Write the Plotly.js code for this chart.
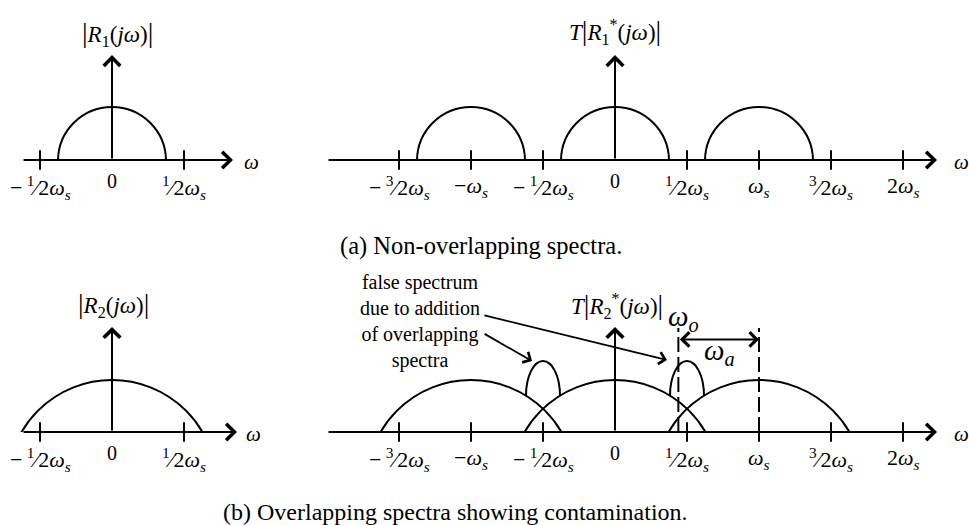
<!DOCTYPE html>
<html><head><meta charset="utf-8">
<script src="https://cdn.plot.ly/plotly-3.0.1.min.js"></script>
<style>html,body{margin:0;padding:0;background:#fff}</style>
</head><body><div id="chart" style="width:969px;height:525px"></div>
<script>
// ---------------- data (frequency in units of ωs, magnitude in units of the peak) ----------------
const narrowTicks = [-0.5, 0.5];
const narrowTickLabels = ['−\u2009<sup>1</sup>⁄2<i>ω</i><sub><i>s</i></sub>', '<sup>1</sup>⁄2<i>ω</i><sub><i>s</i></sub>'];
const wideTicks = [-1.5, -1, -0.5, 0.5, 1, 1.5, 2];
const wideTickLabels = ['−\u2009<sup>3</sup>⁄2<i>ω</i><sub><i>s</i></sub>', '−<i>ω</i><sub><i>s</i></sub>', '−\u2009<sup>1</sup>⁄2<i>ω</i><sub><i>s</i></sub>',
  '<sup>1</sup>⁄2<i>ω</i><sub><i>s</i></sub>', '<i>ω</i><sub><i>s</i></sub>', '<sup>3</sup>⁄2<i>ω</i><sub><i>s</i></sub>', '2<i>ω</i><sub><i>s</i></sub>'];

// (a) non-overlapping spectra
const aBaseCentres = [0];
const aSampledCentres = [-1, 0, 1];
const aHalfWidth = 0.375;   // half-width at the axis
const aPeak = 1.0;

// (b) overlapping spectra
const bBaseCentres = [0];
const bSampledCentres = [-1, 0, 1];
const bHalfWidth = 0.628;   // half-width at the axis
const bPeak = 1.0;
const falseCentres = [-0.5, 0.5];
const falseHalfWidth = 0.118;
const falseBase = 0.70;
const falsePeak = 1.365;

// frequency markers
const omegaO = 0.44;
const omegaS = 1.0;
const markerTop = 2.0;
const spanArrowY = 1.78;

// ---------------- layout geometry ----------------
const W = 969, H = 525, PXW = 144;
const FONT = 'Liberation Serif, Times New Roman, serif';
const panels = [
  {xa:'x',  ya:'y',  L:10,  R:262, z:112, axisY:160, top:8,   ppu:53, tail:-0.625, tip:0.84,  arrowTop:1.98, wLbl:0.972, ticks:narrowTicks, labels:narrowTickLabels},
  {xa:'x2', ya:'y2', L:300, R:969, z:615, axisY:160, top:8,   ppu:53, tail:-2.0,   tip:2.236, arrowTop:1.98, wLbl:2.403, ticks:wideTicks,   labels:wideTickLabels},
  {xa:'x3', ya:'y3', L:10,  R:262, z:112, axisY:432, top:268, ppu:52, tail:-0.625, tip:0.868, arrowTop:2.02, wLbl:0.985, ticks:narrowTicks, labels:narrowTickLabels},
  {xa:'x4', ya:'y4', L:300, R:969, z:615, axisY:432, top:268, ppu:52, tail:-2.0,   tip:2.236, arrowTop:2.02, wLbl:2.403, ticks:wideTicks,   labels:wideTickLabels}
];

const layout = {width:W, height:H, margin:{l:0,r:0,t:0,b:0}, showlegend:false,
  paper_bgcolor:'#fff', plot_bgcolor:'rgba(0,0,0,0)', shapes:[], annotations:[]};
const traces = [];
const blk = '#000';

panels.forEach((p, i) => {
  const sfx = i === 0 ? '' : String(i + 1);
  layout['xaxis' + sfx] = {domain:[p.L / W, p.R / W], range:[(p.L - p.z) / PXW, (p.R - p.z) / PXW],
    visible:false, fixedrange:true, anchor:p.ya};
  layout['yaxis' + sfx] = {domain:[1 - p.axisY / H, 1 - p.top / H], range:[0, (p.axisY - p.top) / p.ppu],
    visible:false, fixedrange:true, anchor:p.xa};
  // tick marks
  traces.push({type:'scatter', mode:'markers', x:p.ticks, y:p.ticks.map(() => 0), xaxis:p.xa, yaxis:p.ya,
    cliponaxis:false, hoverinfo:'skip',
    marker:{symbol:'line-ns', size:14, color:blk, line:{width:2, color:blk}}});
  // horizontal axis arrow
  layout.annotations.push({xref:p.xa, yref:p.ya, axref:p.xa, ayref:p.ya, x:p.tip, y:0, ax:p.tail, ay:0,
    text:'', showarrow:true, arrowhead:4, arrowsize:1.6, arrowwidth:2, arrowcolor:blk});
  // vertical axis arrow
  layout.annotations.push({xref:p.xa, yref:p.ya, axref:p.xa, ayref:p.ya, x:0, y:p.arrowTop, ax:0, ay:0,
    text:'', showarrow:true, arrowhead:4, arrowsize:1.6, arrowwidth:2, arrowcolor:blk});
  // tick labels
  p.ticks.forEach((t, k) => layout.annotations.push({xref:p.xa, yref:p.ya, x:t, y:0, yshift:-27,
    text:p.labels[k], showarrow:false, font:{family:FONT, size:22, color:blk}}));
  layout.annotations.push({xref:p.xa, yref:p.ya, x:0, y:0, yshift:-21, text:'0', showarrow:false,
    font:{family:FONT, size:20, color:blk}});
  // ω axis label
  layout.annotations.push({xref:p.xa, yref:p.ya, x:p.wLbl, y:0, yshift:-2, text:'<i>ω</i>', showarrow:false,
    xanchor:'center', font:{family:FONT, size:21, color:blk}});
});

// ---------------- spectra ----------------
function semi(xa, ya, c, hw, pk) {            // circular arc through (c±hw,0) and (c,pk)
  const p = panels.find(q => q.xa === xa);
  const hwPx = hw * PXW, pkPx = pk * p.ppu;
  const R = (hwPx * hwPx + pkPx * pkPx) / (2 * pkPx);
  const cy = (pkPx - R) / p.ppu;
  layout.shapes.push({type:'circle', xref:xa, yref:ya, x0:c - R / PXW, x1:c + R / PXW,
    y0:cy - R / p.ppu, y1:cy + R / p.ppu, line:{color:blk, width:2}, fillcolor:'rgba(0,0,0,0)'});
}
aBaseCentres.forEach(c => semi('x', 'y', c, aHalfWidth, aPeak));
aSampledCentres.forEach(c => semi('x2', 'y2', c, aHalfWidth, aPeak));
bBaseCentres.forEach(c => semi('x3', 'y3', c, bHalfWidth, bPeak));
bSampledCentres.forEach(c => semi('x4', 'y4', c, bHalfWidth, bPeak));

// false-spectrum bumps (half ellipses via cubic Béziers)
const K = 0.5523;
falseCentres.forEach(c => {
  const x0 = c - falseHalfWidth, x1 = c + falseHalfWidth, b = falseBase, h = falsePeak - falseBase;
  const path = `M${x0},${b} C${x0},${b + K * h} ${c - K * falseHalfWidth},${falsePeak} ${c},${falsePeak} ` +
               `C${c + K * falseHalfWidth},${falsePeak} ${x1},${b + K * h} ${x1},${b}`;
  layout.shapes.push({type:'path', xref:'x4', yref:'y4', path:path, line:{color:blk, width:2}});
});

// dashed markers at ωo and ωs
[omegaO, omegaS].forEach(v => layout.shapes.push({type:'line', xref:'x4', yref:'y4', x0:v, x1:v, y0:0, y1:markerTop,
  line:{color:blk, width:2, dash:'15px,5px'}}));
// ωa span arrow
layout.annotations.push({xref:'x4', yref:'y4', axref:'x4', ayref:'y4', x:omegaS, y:spanArrowY, ax:omegaO, ay:spanArrowY,
  text:'', showarrow:true, arrowside:'end+start', arrowhead:4, startarrowhead:4, arrowsize:1.4, startarrowsize:1.4,
  arrowwidth:2, arrowcolor:blk});
layout.annotations.push({xref:'x4', yref:'y4', x:0.475, y:2.19, text:'<i>ω</i><sub><i>o</i></sub>', showarrow:false,
  font:{family:FONT, size:29, color:blk}});
layout.annotations.push({xref:'x4', yref:'y4', x:0.725, y:1.54, text:'<i>ω</i><sub><i>a</i></sub>', showarrow:false,
  font:{family:FONT, size:29, color:blk}});

// false-spectrum note and arrows
layout.annotations.push({xref:'x4', yref:'y4', x:-1.354, y:2.13, text:'false spectrum<br>due to addition<br>of overlapping<br>spectra',
  showarrow:false, align:'center', font:{family:FONT, size:20, color:blk}});
layout.annotations.push({xref:'x4', yref:'y4', x:0.361, y:1.385, ax:-184, ay:-45, text:'', showarrow:true,
  arrowhead:4, arrowsize:1.3, arrowwidth:1.8, arrowcolor:blk});
layout.annotations.push({xref:'x4', yref:'y4', x:-0.576, y:1.365, ax:-49, ay:-28, text:'', showarrow:true,
  arrowhead:4, arrowsize:1.3, arrowwidth:1.8, arrowcolor:blk});

// ---------------- titles ----------------
const bar = '<span style="font-size:28px">|</span>';
const titles = [
  {xa:'x',  ya:'y',  x:0.035, y:2.38, t:bar + '<i>R</i><sub>1</sub>(<i>jω</i>)' + bar},
  {xa:'x2', ya:'y2', x:0.0,   y:2.42, t:'<i>T</i>' + bar + '<i>R</i><sub>1</sub><sup>*</sup>(<i>jω</i>)' + bar},
  {xa:'x3', ya:'y3', x:0.007, y:2.46, t:bar + '<i>R</i><sub>2</sub>(<i>jω</i>)' + bar},
  {xa:'x4', ya:'y4', x:0.014, y:2.44, t:'<i>T</i>' + bar + '<i>R</i><sub>2</sub><sup>*</sup>(<i>jω</i>)' + bar}
];
titles.forEach(o => layout.annotations.push({xref:o.xa, yref:o.ya, x:o.x, y:o.y, text:o.t, showarrow:false,
  font:{family:FONT, size:23, color:blk}}));

// ---------------- captions ----------------
layout.annotations.push({xref:'paper', yref:'paper', x:481 / W, y:1 - 246 / H, text:'(a) Non-overlapping spectra.',
  showarrow:false, font:{family:FONT, size:24.5, color:blk}});
layout.annotations.push({xref:'paper', yref:'paper', x:690 / W, xanchor:'right', y:1 - 512 / H, yanchor:'middle',
  text:'(b) Overlapping spectra showing contamination.', showarrow:false, font:{family:FONT, size:24, color:blk}});

Plotly.newPlot('chart', traces, layout, {staticPlot:true, displayModeBar:false});
</script></body></html>
